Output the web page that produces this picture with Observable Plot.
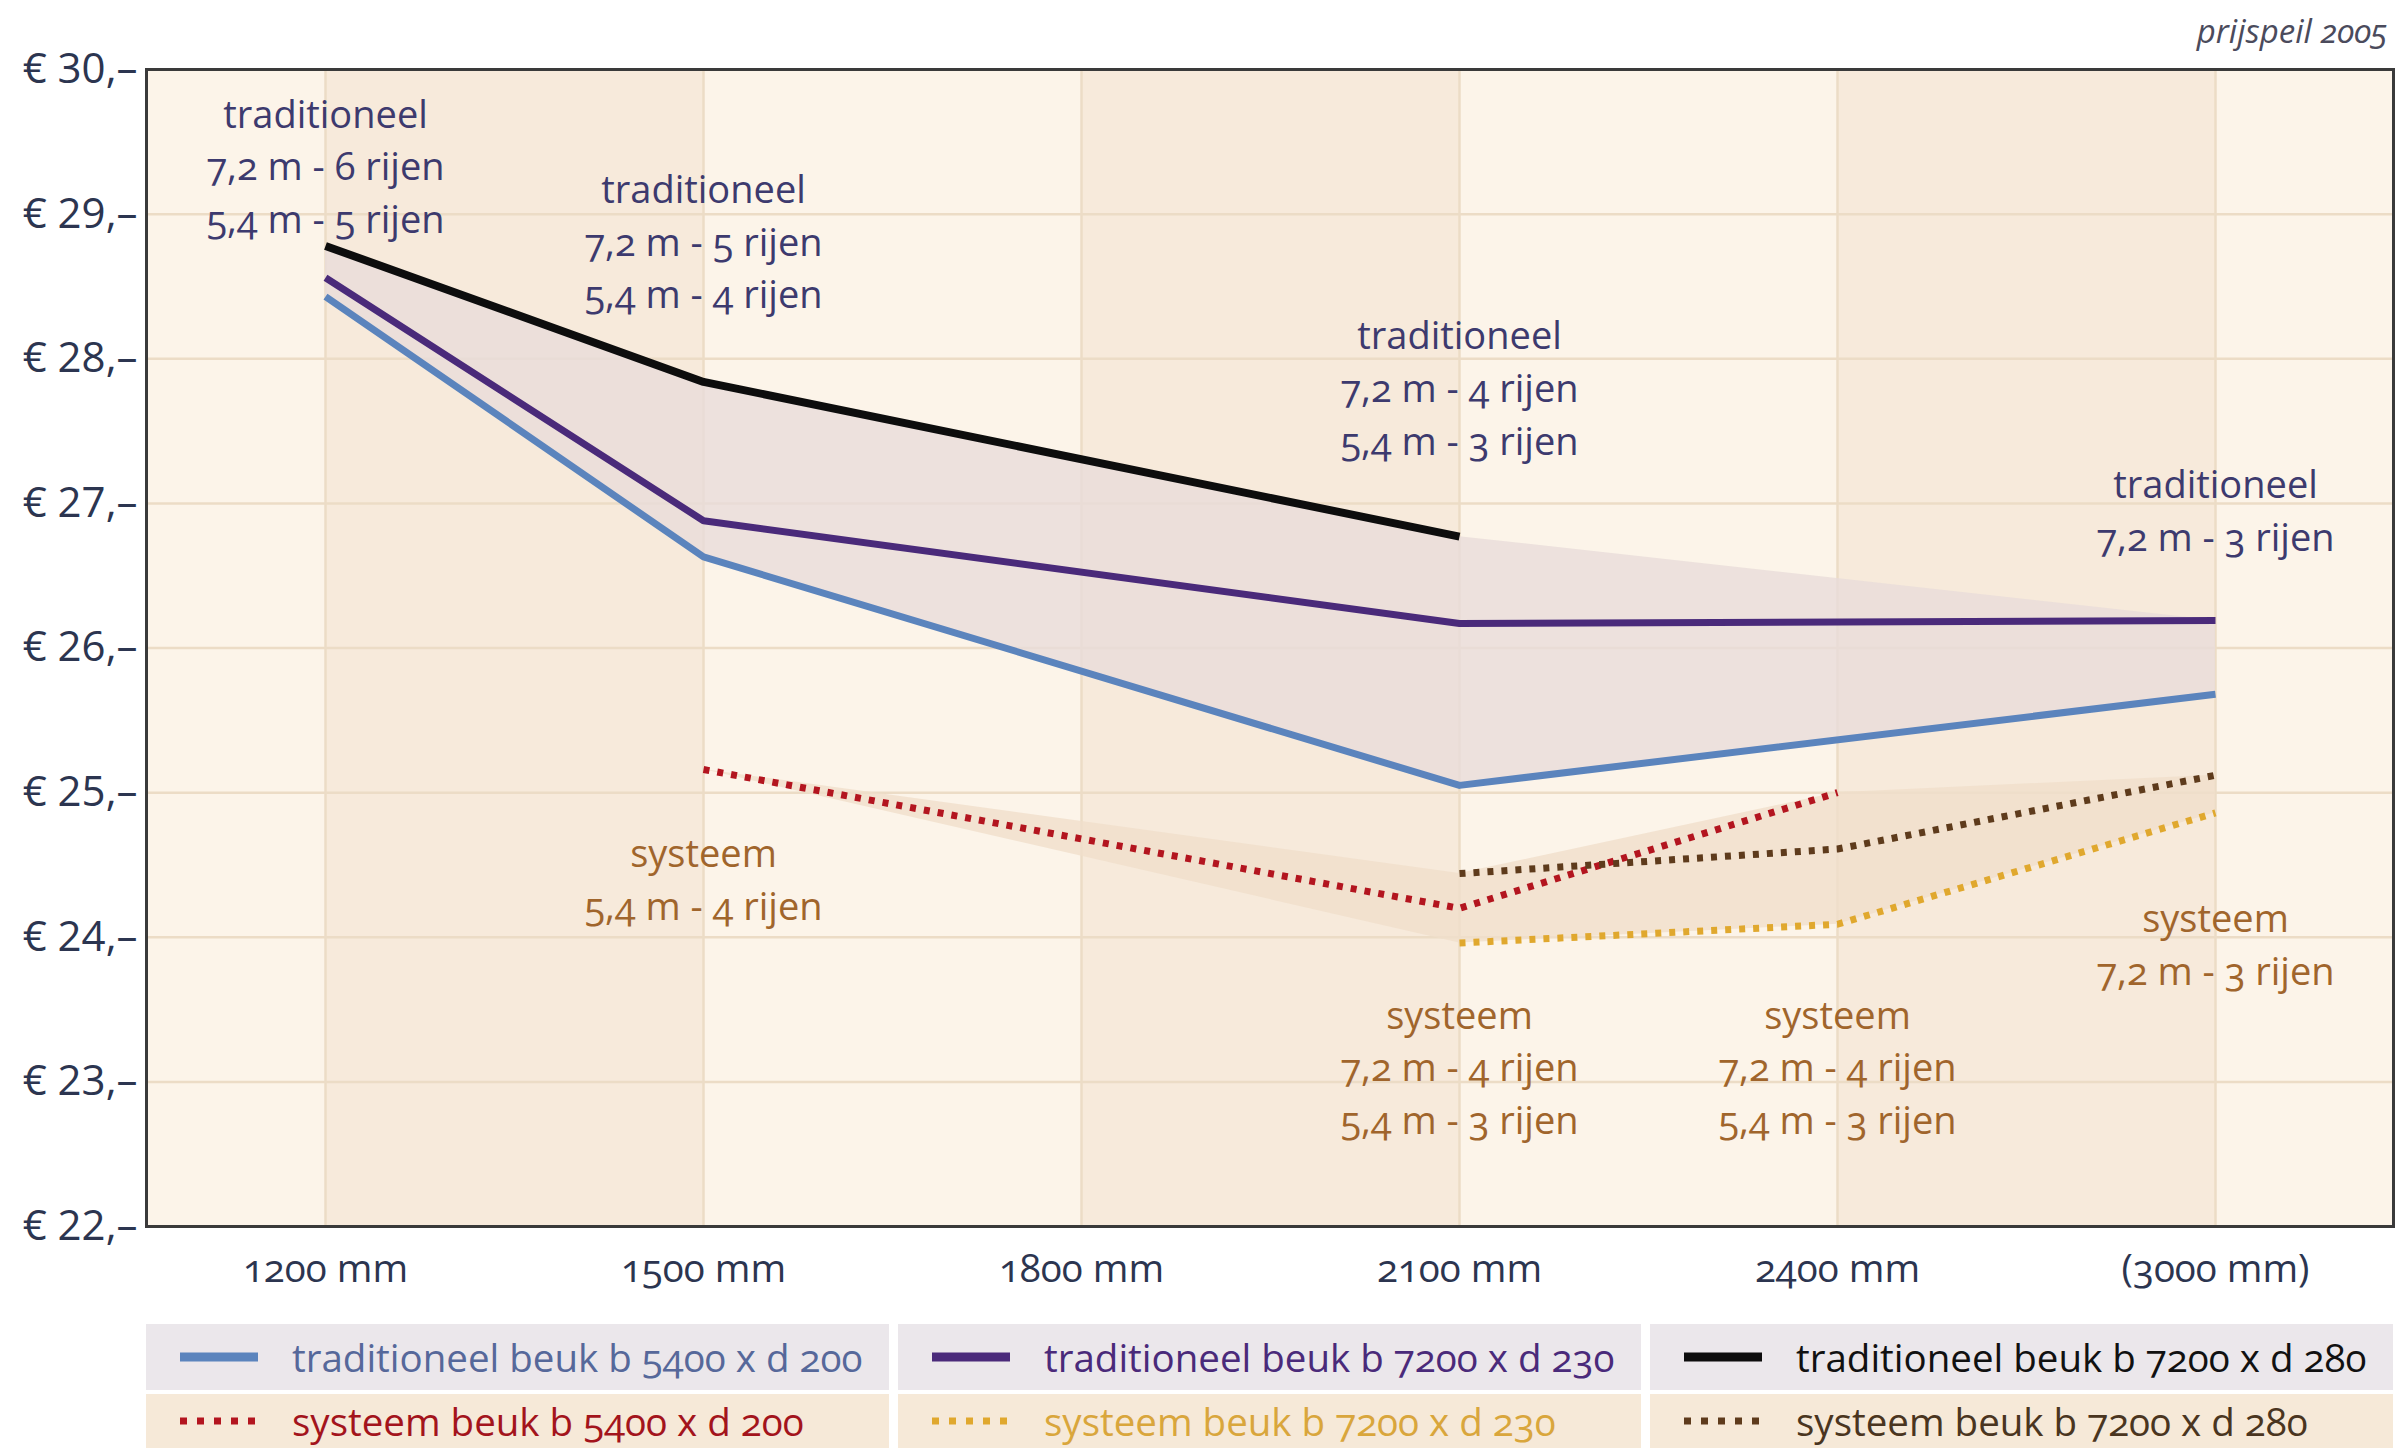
<!DOCTYPE html>
<html><head><meta charset="utf-8">
<script src="https://cdn.jsdelivr.net/npm/d3@7"></script>
<script src="https://cdn.jsdelivr.net/npm/@observablehq/plot@0.6"></script>
<style>
body{margin:0;background:#fff;width:2408px;font-family:"Open Sans",sans-serif;font-variant-numeric:oldstyle-nums;}
#head{height:24px;position:relative;z-index:2;}
#head span{position:absolute;right:20px;top:14px;font-style:italic;font-size:33px;color:#4b4b5c;line-height:1;}
#chart{position:relative;z-index:1;}
#legend{margin-left:146px;width:2247px;margin-top:8px;display:grid;grid-template-columns:1fr 1fr 1fr;column-gap:9px;row-gap:4px;}
.cell{display:flex;align-items:center;font-size:38.5px;white-space:nowrap;}
.r1{height:66px;background:#ebe7eb;}
.r2{height:54px;background:#f6e9d8;}
.cell svg{margin-left:34px;margin-right:34px;flex:none;}
</style></head>
<body>
<div id="head"><span>prijspeil 2005</span></div>
<div id="chart"></div>
<div id="legend"></div>
<script>
// ---- data ----
const categories = ["1200 mm", "1500 mm", "1800 mm", "2100 mm", "2400 mm", "(3000 mm)"];
const yTicks = [22, 23, 24, 25, 26, 27, 28, 29, 30];

const tradX = ["1200 mm", "1500 mm", "2100 mm", "(3000 mm)"];
const trad5400d200 = [28.43, 26.63, 25.05, 25.68];
const trad7200d230 = [28.56, 26.88, 26.17, 26.19];
const trad280X = ["1200 mm", "1500 mm", "2100 mm"];
const trad7200d280 = [28.78, 27.84, 26.77];

const sys5400X = ["1500 mm", "2100 mm", "2400 mm"];
const sys5400d200 = [25.16, 24.20, 25.00];
const sys7200X = ["2100 mm", "2400 mm", "(3000 mm)"];
const sys7200d230 = [23.96, 24.09, 24.86];
const sys7200d280 = [24.44, 24.61, 25.12];

const seriesNames = [
  "traditioneel beuk b 5400 x d 200", "traditioneel beuk b 7200 x d 230", "traditioneel beuk b 7200 x d 280",
  "systeem beuk b 5400 x d 200", "systeem beuk b 7200 x d 230", "systeem beuk b 7200 x d 280"
];

const noteTexts = [
  "traditioneel\n7,2 m - 6 rijen\n5,4 m - 5 rijen",
  "traditioneel\n7,2 m - 5 rijen\n5,4 m - 4 rijen",
  "traditioneel\n7,2 m - 4 rijen\n5,4 m - 3 rijen",
  "traditioneel\n7,2 m - 3 rijen",
  "systeem\n5,4 m - 4 rijen",
  "systeem\n7,2 m - 4 rijen\n5,4 m - 3 rijen",
  "systeem\n7,2 m - 4 rijen\n5,4 m - 3 rijen",
  "systeem\n7,2 m - 3 rijen"
];
const noteX = ["1200 mm", "1500 mm", "2100 mm", "(3000 mm)", "1500 mm", "2100 mm", "2400 mm", "(3000 mm)"];
const noteY = [29.35, 28.83, 27.82, 26.97, 24.42, 23.12, 23.12, 23.97];
const noteKind = ["trad", "trad", "trad", "trad", "sys", "sys", "sys", "sys"];

// ---- styles ----
const colors = ["#5b84bd", "#4a2a7a", "#0d0d0d", "#b3151f", "#e0a82e", "#5e3b1c"];
const textColors = ["#56689a", "#4a2a7a", "#111111", "#a3141c", "#d9a63c", "#4a3520"];
const dotted = [false, false, false, true, true, true];
const widths = [7, 7, 8, 7, 7, 7];

// ---- tables ----
const mk = (xs, ys, s) => xs.map((x, i) => ({x, y: ys[i], s}));
const lines = [
  mk(tradX, trad5400d200, 0),
  mk(tradX, trad7200d230, 1),
  mk(trad280X, trad7200d280, 2),
  mk(sys5400X, sys5400d200, 3),
  mk(sys7200X, sys7200d230, 4),
  mk(sys7200X, sys7200d280, 5)
];

const tradUpper = [...trad7200d280, trad7200d230[3]];
const tradArea = tradX.map((x, i) => ({x, y1: trad5400d200[i], y2: tradUpper[i]}));
const sysAreaX = ["1500 mm", "2100 mm", "2400 mm", "(3000 mm)"];
const sysLow = [sys5400d200[0], sys7200d230[0], sys7200d230[1], sys7200d230[2]];
const sysHigh = [sys5400d200[0], sys7200d280[0], sys5400d200[2], sys7200d280[2]];
const sysArea = sysAreaX.map((x, i) => ({x, y1: sysLow[i], y2: sysHigh[i]}));

const bands = [0, 2, 4].map(i => ({x1: categories[i], x2: categories[i + 1]}));
const notes = noteTexts.map((t, i) => ({text: t, x: noteX[i], y: noteY[i], kind: noteKind[i]}));

const plot = Plot.plot({
  width: 2408,
  height: 1292,
  marginTop: 45,
  marginBottom: 90,
  marginLeft: 146,
  marginRight: 15,
  style: {fontFamily: "'Open Sans', sans-serif", fontSize: "38px", color: "#2c3550", background: "transparent", fontVariantNumeric: "oldstyle-nums", overflow: "visible"},
  x: {type: "point", domain: categories, padding: 0.47, label: null},
  y: {domain: [22, 30], label: null},
  marks: [
    Plot.frame({fill: "#fcf4e9"}),
    Plot.rect(bands, {x1: "x1", x2: "x2", fill: "#f7eadb"}),
    Plot.gridY({ticks: yTicks, stroke: "#ecdcc6", strokeOpacity: 1, strokeWidth: 2.5}),
    Plot.gridX({ticks: categories, stroke: "#ecdcc6", strokeOpacity: 1, strokeWidth: 2.5}),
    Plot.areaY(tradArea, {x: "x", y1: "y1", y2: "y2", fill: "#e8dcd9", fillOpacity: 0.8}),
    Plot.areaY(sysArea, {x: "x", y1: "y1", y2: "y2", fill: "#f0dfca", fillOpacity: 0.8}),
    ...lines.map((d, k) => Plot.line(d, {
      x: "x", y: "y", stroke: colors[k],
      strokeWidth: widths[k],
      strokeDasharray: dotted[k] ? "6 8" : null,
      strokeLinecap: "butt", strokeLinejoin: "round"
    })),
    Plot.text(notes, {
      x: "x", y: "y", text: "text", lineHeight: 1.39, fontSize: 38,
      fill: d => d.kind === "trad" ? "#3d3a6e" : "#a0652c",
      textAnchor: "middle"
    }),
    Plot.axisY({ticks: yTicks, tickSize: 0, tickPadding: 9, tickFormat: d => `€ ${d},–`, fontSize: 42}),
    Plot.axisX({ticks: categories, tickSize: 0, tickPadding: 28, fontSize: 38.5}),
    Plot.frame({stroke: "#3a3a3a", strokeWidth: 3})
  ]
});
document.getElementById("chart").appendChild(plot);

// ---- legend ----
const legend = document.getElementById("legend");
[0, 1, 2, 3, 4, 5].forEach(k => {
  const cell = document.createElement("div");
  cell.className = "cell " + (k < 3 ? "r1" : "r2");
  const sw = `<svg width="78" height="14"><line x1="0" x2="78" y1="7" y2="7" stroke="${colors[k]}" stroke-width="${dotted[k] ? 7 : 9}" ${dotted[k] ? 'stroke-dasharray="7 10"' : ''}/></svg>`;
  cell.innerHTML = sw + `<span style="color:${textColors[k]}">${seriesNames[k]}</span>`;
  legend.appendChild(cell);
});
</script>
</body></html>
